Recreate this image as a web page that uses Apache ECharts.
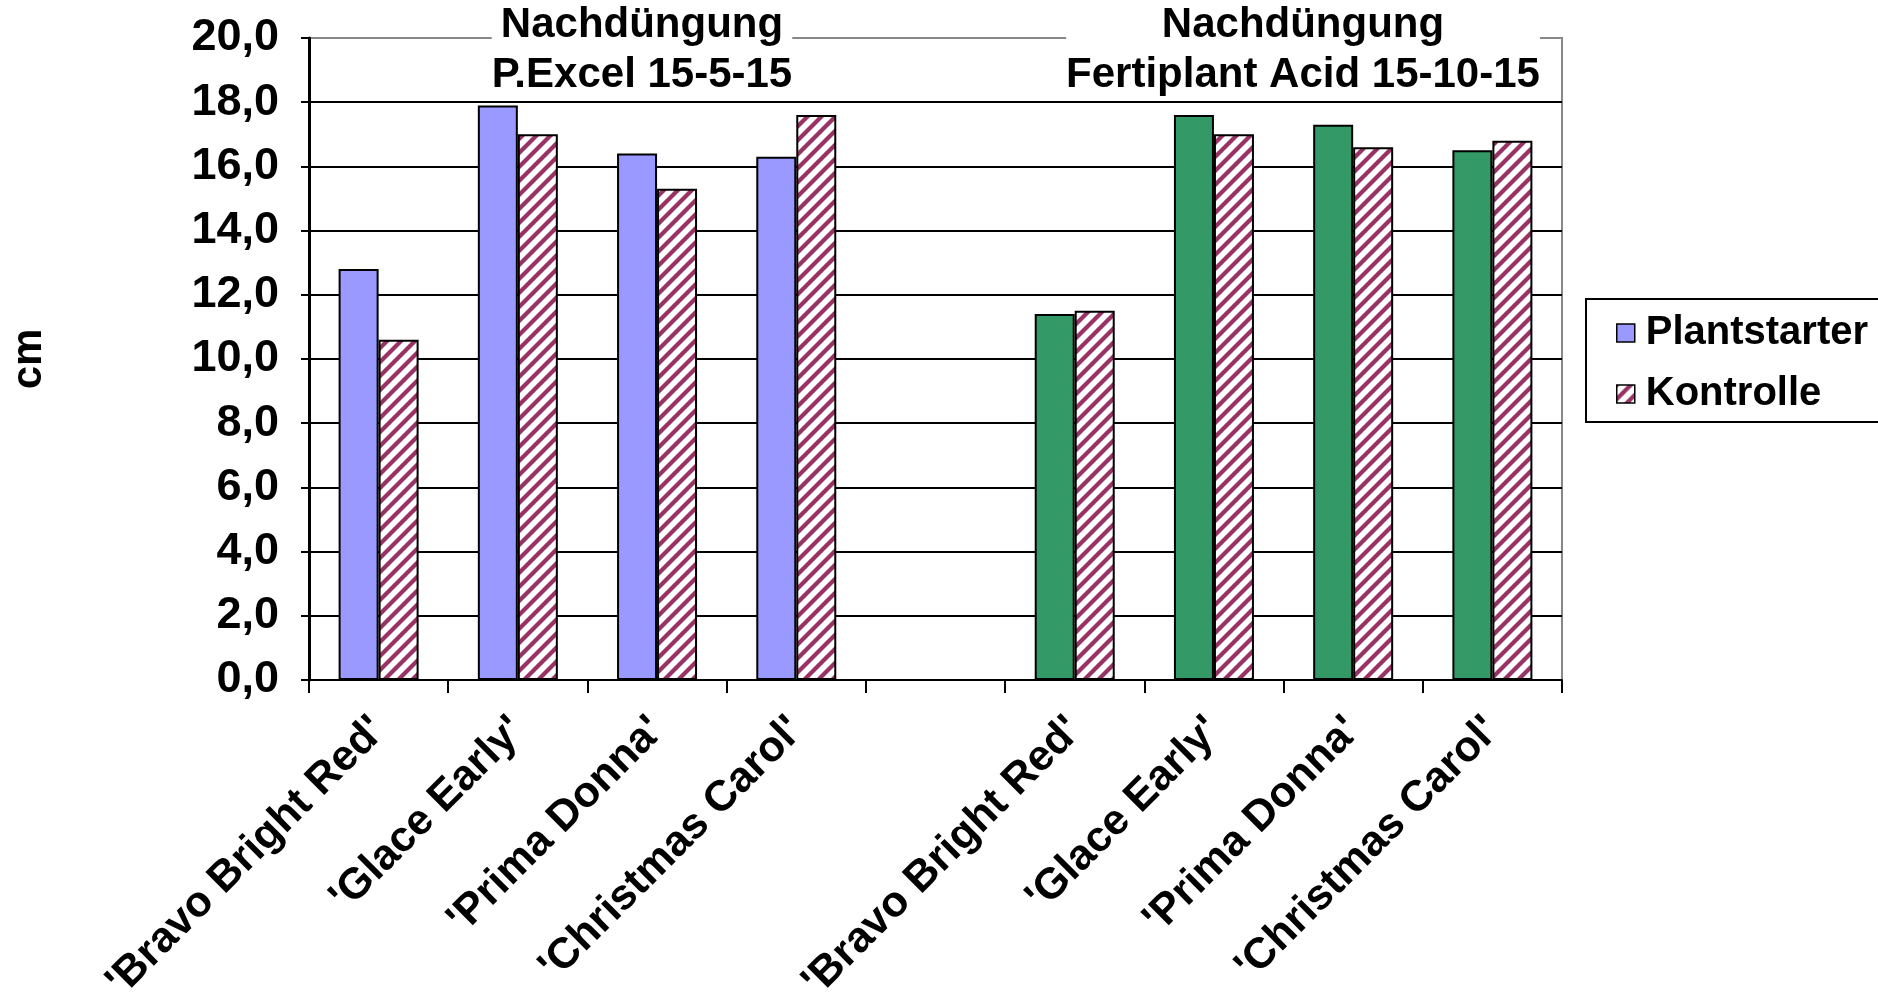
<!DOCTYPE html>
<html>
<head>
<meta charset="utf-8">
<script src="https://cdn.jsdelivr.net/npm/echarts@6/dist/echarts.min.js"></script>
<style>
html,body{margin:0;padding:0;background:#fff;}
#chart{width:1878px;height:998px;}
</style>
</head>
<body>
<div id="chart"></div>
<script>
// ---- data ----
const categories = ["'Bravo Bright Red'", "'Glace Early'", "'Prima Donna'", "'Christmas Carol'", "",
                    "'Bravo Bright Red'", "'Glace Early'", "'Prima Donna'", "'Christmas Carol'"];
const plantstarterExcel = [12.8, 17.9, 16.4, 16.3];
const plantstarterFerti = [11.4, 17.6, 17.3, 16.5];
const kontrolleExcel = [10.6, 17.0, 15.3, 17.6];
const kontrolleFerti = [11.5, 17.0, 16.6, 16.8];
const groupTitles = ["Nachdüngung\nP.Excel 15-5-15", "Nachdüngung\nFertiplant Acid 15-10-15"];
const seriesNames = ['Plantstarter', 'Kontrolle'];
const yTicks = [0, 2, 4, 6, 8, 10, 12, 14, 16, 18, 20];

// ---- styles ----
const FONT = 'Liberation Sans';
const blue = '#9999FF', green = '#339966', hatchColor = '#993366';

function makeHatch() {
  const S = 14;
  const c = document.createElement('canvas');
  c.width = S; c.height = S;
  const ctx = c.getContext('2d');
  ctx.fillStyle = '#fff';
  ctx.fillRect(0, 0, S, S);
  ctx.strokeStyle = hatchColor;
  ctx.lineWidth = 4.2;
  for (const k of [0, S, 2 * S]) {
    ctx.beginPath();
    ctx.moveTo(k - S - 2, S + 2);
    ctx.lineTo(k + 2, -2);
    ctx.stroke();
  }
  return c;
}
const hatch = { image: makeHatch(), repeat: 'repeat' };

const psData = plantstarterExcel.map(v => ({ value: v, itemStyle: { color: blue } }))
  .concat(['-'])
  .concat(plantstarterFerti.map(v => ({ value: v, itemStyle: { color: green } })));
const koData = kontrolleExcel.map(v => v).concat(['-']).concat(kontrolleFerti);

const titleStyle = { fontFamily: FONT, fontWeight: 'bold', fontSize: 42, lineHeight: 50, color: '#000' };

const chart = echarts.init(document.getElementById('chart'), null, { renderer: 'canvas' });
chart.setOption({
  animation: false,
  backgroundColor: '#fff',
  textStyle: { fontFamily: FONT, fontWeight: 'bold', color: '#000' },
  title: [
    { text: groupTitles[0], left: 642, top: 0, textAlign: 'center', padding: 0,
      backgroundColor: '#fff', textStyle: titleStyle },
    { text: groupTitles[1], left: 1303, top: 0, textAlign: 'center', padding: 0,
      backgroundColor: '#fff', textStyle: titleStyle }
  ],
  legend: {
    orient: 'vertical',
    left: 1586, top: 299,
    padding: [14, 80, 8, 30],
    itemGap: 21,
    itemWidth: 18, itemHeight: 18,
    borderColor: '#000', borderWidth: 2,
    icon: 'rect',
    textStyle: { fontFamily: FONT, fontWeight: 'bold', fontSize: 40, color: '#000', padding: [0, 0, 0, 6] },
    data: [
      { name: seriesNames[0], itemStyle: { color: blue, borderColor: '#000', borderWidth: 1.5 } },
      { name: seriesNames[1], itemStyle: { color: hatch, borderColor: '#000', borderWidth: 1.5 } }
    ]
  },
  grid: {
    left: 309, right: 316, top: 38, bottom: 318,
    containLabel: false,
    outerBoundsMode: 'none',
    show: true, borderColor: '#888', borderWidth: 2, backgroundColor: 'transparent'
  },
  xAxis: {
    type: 'category',
    data: categories,
    axisLine: { lineStyle: { color: '#000', width: 2 } },
    axisTick: { show: true, length: 13, lineStyle: { color: '#000', width: 2 } },
    axisLabel: { rotate: 45, margin: 44, interval: 0, fontFamily: FONT, fontWeight: 'bold', fontSize: 43, color: '#000' }
  },
  yAxis: {
    type: 'value',
    min: 0, max: 20, interval: 2,
    name: 'cm',
    nameLocation: 'middle',
    nameGap: 259,
    nameRotate: 90,
    nameTextStyle: { fontFamily: FONT, fontWeight: 'bold', fontSize: 42, color: '#000' },
    axisLine: { show: true, lineStyle: { color: '#000', width: 3 } },
    axisTick: { show: true, length: 8, lineStyle: { color: '#000', width: 2 } },
    splitLine: { show: true, showMaxLine: false, lineStyle: { color: '#000', width: 2 } },
    axisLabel: {
      margin: 30, fontFamily: FONT, fontWeight: 'bold', fontSize: 45, color: '#000',
      formatter: v => yTicks.includes(v) ? v.toFixed(1).replace('.', ',') : ''
    }
  },
  series: [
    { name: seriesNames[0], type: 'bar', data: psData, barWidth: 40, barGap: '0%',
      itemStyle: { color: blue, borderColor: '#000', borderWidth: 2 } },
    { name: seriesNames[1], type: 'bar', data: koData, barWidth: 40, barGap: '0%',
      itemStyle: { color: hatch, borderColor: '#000', borderWidth: 2 } }
  ]
});
</script>
</body>
</html>
